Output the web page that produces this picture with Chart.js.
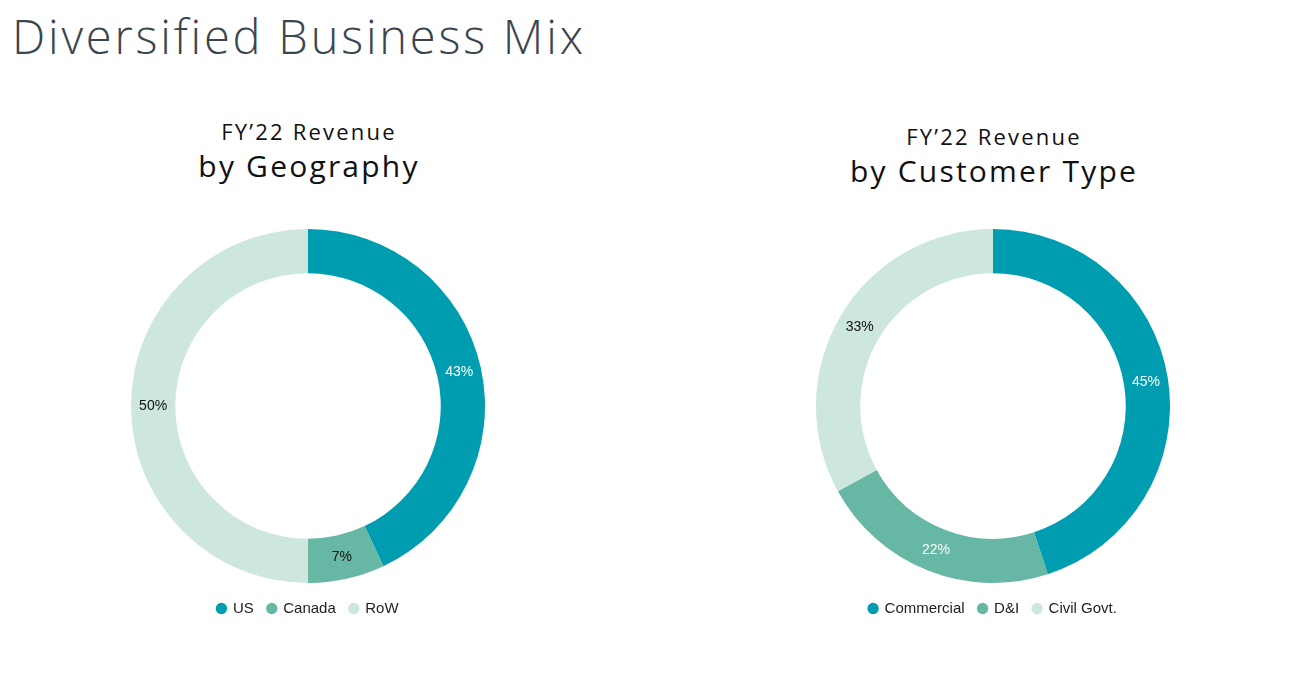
<!DOCTYPE html>
<html>
<head>
<meta charset="UTF-8">
<title>Diversified Business Mix</title>
<script src="https://cdn.jsdelivr.net/npm/chart.js@4.4.0/dist/chart.umd.min.js"></script>
<style>
    html, body { margin: 0; padding: 0; background: #fff; }
    body { width: 1301px; height: 679px; position: relative; overflow: hidden; }
    .main-title {
        position: absolute; left: 12px; top: 4px; margin: 0;
        font-family: "Open Sans", sans-serif; font-weight: 300;
        font-size: 47px; color: #3a4550; letter-spacing: 2.8px;
    }
    .chart-head {
        position: absolute; width: 500px; text-align: center;
        font-family: "Open Sans", sans-serif; color: #111; letter-spacing: 2.2px;
    }
    .chart-head .l1 { font-size: 22px; font-weight: 400; line-height: 30px; }
    .chart-head .l2 { font-size: 30px; font-weight: 400; line-height: 40px; }
    .chart-box { position: absolute; width: 354px; height: 401px; }
</style>
</head>
<body>
<h1 class="main-title">Diversified Business Mix</h1>

<div class="chart-head" style="left:59px; top:116px;">
    <div class="l1">FY’22 Revenue</div>
    <div class="l2">by Geography</div>
</div>
<div class="chart-head" style="left:744px; top:121px;">
    <div class="l1">FY’22 Revenue</div>
    <div class="l2">by Customer Type</div>
</div>

<div class="chart-box" style="left:131px; top:225px;"><canvas id="geoChart"></canvas></div>
<div class="chart-box" style="left:816px; top:225px;"><canvas id="custChart"></canvas></div>

<script>
    // data
    var geoLabels = ['US', 'Canada', 'RoW'];
    var geoValues = [43, 7, 50];
    var custLabels = ['Commercial', 'D&I', 'Civil Govt.'];
    var custValues = [45, 22, 33];
    var colorHex = ['#009db0', '#66b7a4', '#cde6de'];
    var labelColors = ['#ffffff', '#111111', '#111111'];
    var custLabelColors = ['#ffffff', '#ffffff', '#111111'];

    // draws the "43%" style labels in the middle of each ring slice
    var sliceLabels = {
        id: 'sliceLabels',
        afterDatasetsDraw: function (chart, args, opts) {
            var ctx = chart.ctx;
            var meta = chart.getDatasetMeta(0);
            ctx.save();
            ctx.font = '14px "Liberation Sans", Arial, sans-serif';
            ctx.textAlign = 'center';
            ctx.textBaseline = 'middle';
            meta.data.forEach(function (arc, i) {
                var p = arc.tooltipPosition();
                ctx.fillStyle = opts.colors[i];
                ctx.fillText(chart.data.datasets[0].data[i] + '%', p.x, p.y);
            });
            ctx.restore();
        }
    };

    function makeDonut(id, labels, values, textColors) {
        var ctx = document.getElementById(id).getContext('2d');
        return new Chart(ctx, {
            type: 'doughnut',
            data: {
                labels: labels,
                datasets: [{
                    data: values,
                    backgroundColor: colorHex,
                    borderWidth: 0
                }]
            },
            options: {
                responsive: true,
                maintainAspectRatio: false,
                animation: false,
                cutout: '75%',
                layout: { padding: 0 },
                plugins: {
                    tooltip: { enabled: false },
                    legend: {
                        position: 'bottom',
                        labels: {
                            usePointStyle: true,
                            pointStyle: 'circle',
                            boxWidth: 8,
                            boxHeight: 8,
                            padding: 14,
                            color: '#222',
                            font: { family: '"Liberation Sans", Arial, sans-serif', size: 15 }
                        }
                    },
                    sliceLabels: { colors: textColors }
                }
            },
            plugins: [sliceLabels]
        });
    }

    makeDonut('geoChart', geoLabels, geoValues, labelColors);
    makeDonut('custChart', custLabels, custValues, custLabelColors);
</script>
</body>
</html>
